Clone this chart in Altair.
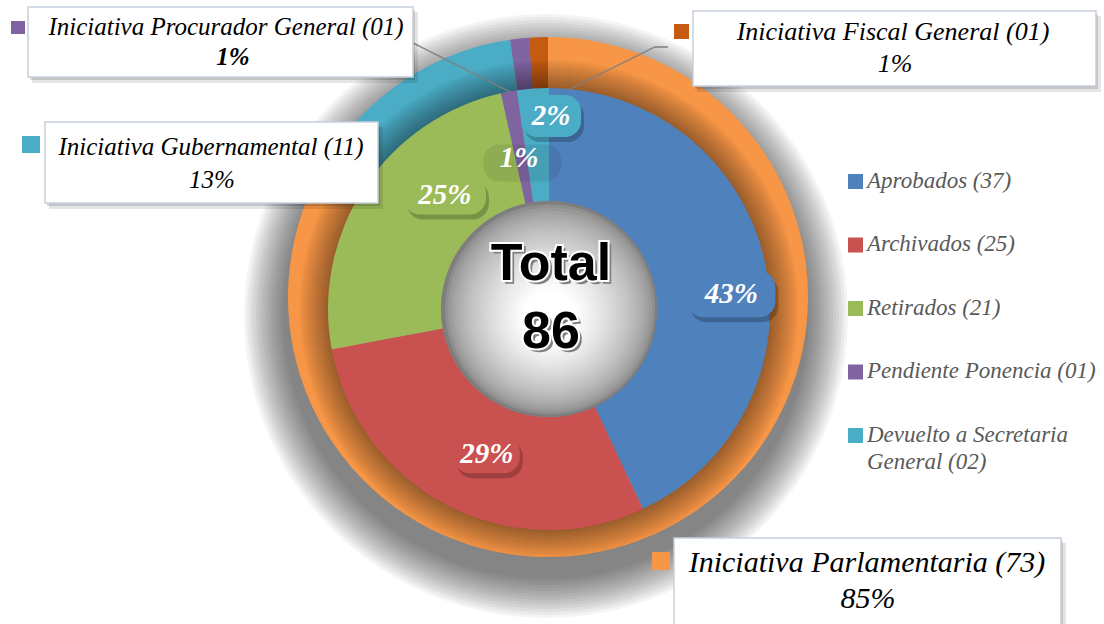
import math
import altair as alt
import pandas as pd

# ---------------- data ----------------
inner_cats = ["Aprobados (37)", "Archivados (25)", "Retirados (21)",
              "Pendiente Ponencia (01)", "Devuelto a Secretaria General (02)"]
inner_vals = [37, 25, 21, 1, 2]
inner_pct = ["43%", "29%", "25%", "1%", "2%"]
inner_colors = ["#4F81BD", "#C9514F", "#9BBB59", "#8064A2", "#4BACC6"]

outer_cats = ["Iniciativa Parlamentaria (73)", "Iniciativa Gubernamental (11)",
              "Iniciativa Procurador General (01)", "Iniciativa Fiscal General (01)"]
outer_vals = [73, 11, 1, 1]
outer_pct = ["85%", "13%", "1%", "1%"]
outer_colors = ["#F79646", "#4BACC6", "#8064A2", "#C55A11"]

center_text = ["Total", "86"]

# ---------------- layout ----------------
W, H = 1104, 624
SERIF = "Liberation Serif"
SANS = "Liberation Sans"

OCX, OCY, OR1, OR0 = 548, 297, 260, 195      # outer ring
ICX, ICY, IR1, IR0 = 549, 309, 221, 108      # inner donut

# inner data-label placement (angle nudge in degrees, radius, box w/h, fill opacity, shadow opacity)
lab_nudge = [7.9, -4.0, 14.0, -0.7, 4.8]
lab_radius = [183, 158, 154, 154, 193]
lab_box_w = [88, 66, 82, 78, 60]
lab_box_h = [46, 38, 38, 37, 42]
lab_box_op = [1, 1, 1, 0, 1]
lab_shadow_op = [0.22, 0.22, 0.22, 0.08, 0.22]

# callouts for the outer ring
callout_box = [(674, 538, 1061, 650), (45, 122, 378, 203), (28, 7, 413, 77), (693, 11, 1096, 86)]
callout_mark = [(652, 552, 670, 570), (22, 136, 40, 153), (11, 21, 25, 34), (674, 24, 689, 39)]
callout_l1 = [(867, 572), (211, 155), (226, 35), (893, 40)]
callout_l2 = [(868, 608), (212, 188), (233, 65), (895, 72)]
callout_fs = [30, 25, 25, 26]
callout_bold_pct = [False, False, True, False]

connector_pts = {
    "Iniciativa Procurador General (01)": [(403, 43), (413, 43), (510, 92)],
    "Iniciativa Fiscal General (01)": [(568, 90), (655, 47), (668, 47)],
}

# legend
LEG_X0, LEG_Y0, LEG_GAP, LEG_SQ = 848, 181.5, 63.5, 15

layers = []


def disc(cx, cy, r, color, opacity, r2=0):
    return alt.Chart(pd.DataFrame({"k": [0]})).mark_arc(
        theta=0, theta2=2 * math.pi, radius=r, radius2=r2,
        color=color, opacity=opacity
    ).encode(x=alt.value(cx), y=alt.value(cy))


# soft shadow of the whole pie (stacked translucent discs)
for r in range(302, 260, -3):
    layers.append(disc(546, 316, r, "black", 0.045))

# outer ring
outer_df = pd.DataFrame({"cat": outer_cats, "val": outer_vals,
                         "ord": list(range(len(outer_cats)))})
layers.append(
    alt.Chart(outer_df).mark_arc(radius=OR1, radius2=OR0).encode(
        x=alt.value(OCX), y=alt.value(OCY),
        theta=alt.Theta("val:Q", stack=True),
        order=alt.Order("ord:Q"),
        color=alt.Color("cat:N", scale=alt.Scale(domain=outer_cats, range=outer_colors),
                        legend=None),
    )
)
# inner shading on the outer ring (gradient bands)
band_edges = list(range(219, 253, 2))
for j in range(len(band_edges) - 1):
    t = j / (len(band_edges) - 2)
    layers.append(disc(ICX, ICY, band_edges[j + 1], "black", 0.40 * (1 - t) ** 0.9, band_edges[j]))

# inner donut
inner_df = pd.DataFrame({"cat": inner_cats, "val": inner_vals,
                         "ord": list(range(len(inner_cats)))})
layers.append(
    alt.Chart(inner_df).mark_arc(radius=IR1, radius2=IR0).encode(
        x=alt.value(ICX), y=alt.value(ICY),
        theta=alt.Theta("val:Q", stack=True),
        order=alt.Order("ord:Q"),
        color=alt.Color("cat:N", scale=alt.Scale(domain=inner_cats, range=inner_colors),
                        legend=None),
    )
)

# hole gradient
layers.append(disc(ICX, ICY, IR0, "#7e7e7e", 1))
hole_steps = list(range(105, 20, -3))
for j, r in enumerate(hole_steps):
    t = (j + 1) / len(hole_steps)
    g = int(126 + (255 - 126) * min(1.0, t ** 0.6 * 1.05))
    layers.append(disc(550, 309 + 8 * (j + 1) / len(hole_steps), r, "#%02x%02x%02x" % (g, g, g), 1))

# Total text
tot_df = pd.DataFrame({"t": center_text, "y": [280, 348]})
base_tot = alt.Chart(tot_df).encode(x=alt.value(551), y=alt.Y("y:Q", scale=None), text="t:N")
layers.append(base_tot.mark_text(font=SANS, fontWeight="bold", fontSize=52, color="#808080",
                                 align="center", baseline="alphabetic", dx=3, dy=3,
                                 stroke="#808080", strokeWidth=1.5))
layers.append(base_tot.mark_text(font=SANS, fontWeight="bold", fontSize=52, color="white",
                                 align="center", baseline="alphabetic",
                                 stroke="white", strokeWidth=4))
layers.append(base_tot.mark_text(font=SANS, fontWeight="bold", fontSize=52, color="black",
                                 align="center", baseline="alphabetic"))

# inner data labels
total = sum(inner_vals)
rows = []
cum = 0
for i, (c, v) in enumerate(zip(inner_cats, inner_vals)):
    mid = (cum + v / 2) / total * 360 + lab_nudge[i]
    cum += v
    a = math.radians(mid)
    cx = ICX + lab_radius[i] * math.sin(a)
    cy = ICY - lab_radius[i] * math.cos(a)
    w, h = lab_box_w[i], lab_box_h[i]
    rows.append(dict(pct=inner_pct[i], col=inner_colors[i], op=lab_box_op[i], sop=lab_shadow_op[i],
                     cx=cx, cy=cy, x1=cx - w / 2, x2=cx + w / 2, y1=cy - h / 2, y2=cy + h / 2,
                     sx1=cx - w / 2 + 3, sx2=cx + w / 2 + 3, sy1=cy - h / 2 + 5, sy2=cy + h / 2 + 5))
lab_df = pd.DataFrame(rows)
lab = alt.Chart(lab_df)
layers.append(lab.mark_rect(cornerRadius=16, color="black").encode(
    x=alt.X("sx1:Q", scale=None), x2="sx2:Q", y=alt.Y("sy1:Q", scale=None), y2="sy2:Q",
    opacity=alt.Opacity("sop:Q", scale=None)))
layers.append(lab.mark_rect(cornerRadius=16).encode(
    x=alt.X("x1:Q", scale=None), x2="x2:Q", y=alt.Y("y1:Q", scale=None), y2="y2:Q",
    color=alt.Color("col:N", scale=None), opacity=alt.Opacity("op:Q", scale=None)))
layers.append(lab.mark_text(font=SERIF, fontStyle="italic", fontWeight="bold", fontSize=29,
                            color="white", align="center", baseline="middle").encode(
    x=alt.X("cx:Q", scale=None), y=alt.Y("cy:Q", scale=None), text="pct:N"))

# connectors
con_rows = []
for g, pts in connector_pts.items():
    for k, (x, y) in enumerate(pts):
        con_rows.append(dict(g=g, k=k, x=x, y=y))
layers.append(alt.Chart(pd.DataFrame(con_rows)).mark_line(color="#7f7f7f", strokeWidth=1.3).encode(
    x=alt.X("x:Q", scale=None), y=alt.Y("y:Q", scale=None), detail="g:N", order="k:Q"))

# callout boxes
co_rows = []
for i, c in enumerate(outer_cats):
    bx1, by1, bx2, by2 = callout_box[i]
    mx1, my1, mx2, my2 = callout_mark[i]
    co_rows.append(dict(cat=c, pct=outer_pct[i], col=outer_colors[i], fs=callout_fs[i],
                        bold=callout_bold_pct[i],
                        bx1=bx1, by1=by1, bx2=bx2, by2=by2,
                        mx1=mx1, my1=my1, mx2=mx2, my2=my2,
                        l1x=callout_l1[i][0], l1y=callout_l1[i][1],
                        l2x=callout_l2[i][0], l2y=callout_l2[i][1]))
co_df = pd.DataFrame(co_rows)
co_df["s1x1"] = co_df.bx1 + 2
co_df["s1x2"] = co_df.bx2 + 2
co_df["s1y1"] = co_df.by1 + 3
co_df["s1y2"] = co_df.by2 + 3
co_df["s2x1"] = co_df.bx1 + 4
co_df["s2x2"] = co_df.bx2 + 5
co_df["s2y1"] = co_df.by1 + 5
co_df["s2y2"] = co_df.by2 + 6
co = alt.Chart(co_df)
layers.append(co.mark_rect(color="black", opacity=0.10).encode(
    x=alt.X("s2x1:Q", scale=None), x2="s2x2:Q", y=alt.Y("s2y1:Q", scale=None), y2="s2y2:Q"))
layers.append(co.mark_rect(color="black", opacity=0.14).encode(
    x=alt.X("s1x1:Q", scale=None), x2="s1x2:Q", y=alt.Y("s1y1:Q", scale=None), y2="s1y2:Q"))
layers.append(co.mark_rect(fill="white", stroke="#C6D0DC", strokeWidth=1.5).encode(
    x=alt.X("bx1:Q", scale=None), x2="bx2:Q", y=alt.Y("by1:Q", scale=None), y2="by2:Q"))
layers.append(co.mark_rect().encode(
    x=alt.X("mx1:Q", scale=None), x2="mx2:Q", y=alt.Y("my1:Q", scale=None), y2="my2:Q",
    color=alt.Color("col:N", scale=None)))
layers.append(co.mark_text(font=SERIF, fontStyle="italic", color="black", align="center",
                           baseline="alphabetic").encode(
    x=alt.X("l1x:Q", scale=None), y=alt.Y("l1y:Q", scale=None), text="cat:N",
    size=alt.Size("fs:Q", scale=None)))
layers.append(co.transform_filter("!datum.bold").mark_text(
    font=SERIF, fontStyle="italic", color="black", align="center", baseline="alphabetic").encode(
    x=alt.X("l2x:Q", scale=None), y=alt.Y("l2y:Q", scale=None), text="pct:N",
    size=alt.Size("fs:Q", scale=None)))
layers.append(co.transform_filter("datum.bold").mark_text(
    font=SERIF, fontStyle="italic", fontWeight="bold", color="black", align="center",
    baseline="alphabetic").encode(
    x=alt.X("l2x:Q", scale=None), y=alt.Y("l2y:Q", scale=None), text="pct:N",
    size=alt.Size("fs:Q", scale=None)))

# legend (inner series)
leg_rows = []
for i, c in enumerate(inner_cats):
    yc = LEG_Y0 + i * LEG_GAP
    leg_rows.append(dict(cat=c, txt=c.replace("Secretaria ", "Secretaria\n"), col=inner_colors[i],
                         x1=LEG_X0, x2=LEG_X0 + LEG_SQ, y1=yc - LEG_SQ / 2, y2=yc + LEG_SQ / 2,
                         tx=LEG_X0 + LEG_SQ + 4, ty=yc - 12))
leg = alt.Chart(pd.DataFrame(leg_rows))
layers.append(leg.mark_rect().encode(
    x=alt.X("x1:Q", scale=None), x2="x2:Q", y=alt.Y("y1:Q", scale=None), y2="y2:Q",
    color=alt.Color("col:N", scale=None)))
layers.append(leg.mark_text(font=SERIF, fontStyle="italic", fontSize=23, color="#595959",
                            align="left", baseline="top", lineBreak="\n", lineHeight=27).encode(
    x=alt.X("tx:Q", scale=None), y=alt.Y("ty:Q", scale=None), text="txt:N"))

chart = alt.layer(*layers).resolve_scale(
    color="independent", theta="independent"
).properties(
    width=W, height=H, padding=0, autosize="none", background="white"
).configure_view(stroke=None)

chart.save("out.html", embed_options={"renderer": "svg", "actions": False})
